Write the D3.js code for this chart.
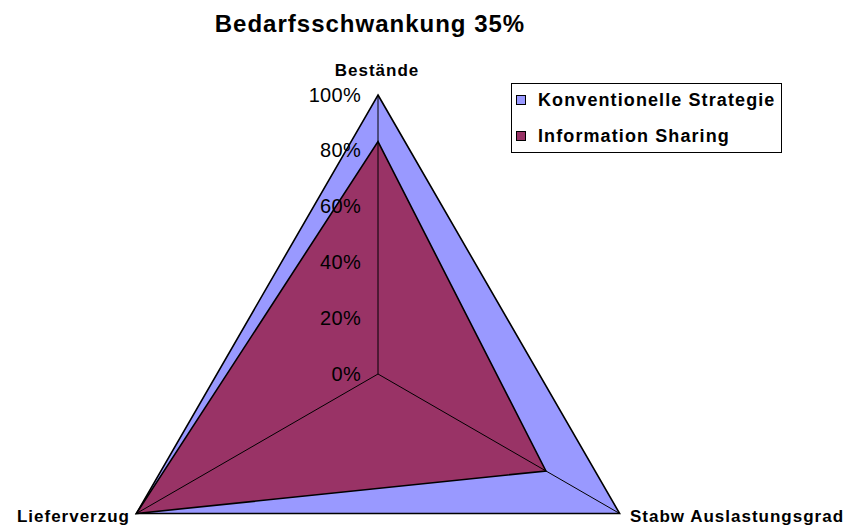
<!DOCTYPE html>
<html lang="de">
  <head>
    <meta charset="UTF-8" />
    <title>Bedarfsschwankung 35%</title>
    <style>
      body {
        margin: 0;
        background: #fff;
        font-family: Arial, "Liberation Sans", sans-serif;
      }
      .title { font-size: 24px; font-weight: bold; letter-spacing: 1px; }
      .axis-label { font-size: 17px; font-weight: bold; letter-spacing: 1px; }
      .tick { font-size: 20px; text-anchor: end; letter-spacing: 0.3px; }
      .legend text { font-size: 18px; font-weight: bold; letter-spacing: 1.1px; }
    </style>
  </head>
  <body>
    <svg width="856" height="529"></svg>
  </body>
  <script src="https://cdn.jsdelivr.net/npm/d3@7"></script>
  <script>
    const axes = ["Bestände", "Stabw Auslastungsgrad", "Lieferverzug"];
    const konventionell = [1.0, 1.0, 1.0];
    const infoSharing = [0.833, 0.695, 1.0];
    const ticks = [0, 0.2, 0.4, 0.6, 0.8, 1.0];
    const seriesNames = ["Konventionelle Strategie", "Information Sharing"];
    const colors = ["#9999ff", "#993366"];

    const svg = d3.select("svg");
    const cx = 378, cy = 374, R = 279;

    const r = d3.scaleLinear().domain([0, 1]).range([0, R]);
    const angle = d3.scaleLinear().domain([0, axes.length]).range([0, 2 * Math.PI]);
    const pt = (i, v) => [cx + r(v) * Math.sin(angle(i)), cy - r(v) * Math.cos(angle(i))];

    svg.append("text")
      .attr("class", "title")
      .attr("x", 370).attr("y", 32)
      .attr("text-anchor", "middle")
      .text("Bedarfsschwankung 35%");

    const line = d3.line().curve(d3.curveLinearClosed);

    [konventionell, infoSharing].forEach((vals, s) => {
      svg.append("path")
        .attr("d", line(vals.map((v, i) => pt(i, v))))
        .attr("fill", colors[s])
        .attr("stroke", "#000")
        .attr("stroke-width", 1.6)
        .attr("stroke-linejoin", "miter");
    });

    // spokes
    svg.append("g").selectAll("line")
      .data(axes)
      .join("line")
      .attr("x1", cx).attr("y1", cy)
      .attr("x2", (_, i) => pt(i, 1)[0])
      .attr("y2", (_, i) => pt(i, 1)[1])
      .attr("stroke", "#000")
      .attr("stroke-width", 1);

    // tick labels
    svg.append("g").selectAll("text")
      .data(ticks)
      .join("text")
      .attr("class", "tick")
      .attr("x", cx - 17)
      .attr("y", (d) => cy - r(d))
      .attr("dy", "0.33em")
      .text(d3.format(".0%"));

    // axis labels
    const labelPos = [
      { x: 377, y: 76, anchor: "middle" },
      { x: 630, y: 522, anchor: "start" },
      { x: 130, y: 522, anchor: "end" },
    ];
    svg.append("g").selectAll("text")
      .data(axes)
      .join("text")
      .attr("class", "axis-label")
      .attr("x", (_, i) => labelPos[i].x)
      .attr("y", (_, i) => labelPos[i].y)
      .attr("text-anchor", (_, i) => labelPos[i].anchor)
      .text((d) => d);

    // legend
    const legend = svg.append("g").attr("class", "legend");
    legend.append("rect")
      .attr("x", 511.5).attr("y", 83.5)
      .attr("width", 270).attr("height", 69)
      .attr("fill", "#fff").attr("stroke", "#000");
    const items = legend.selectAll("g.item")
      .data(seriesNames)
      .join("g")
      .attr("class", "item")
      .attr("transform", (_, i) => `translate(516, ${100 + i * 36})`);
    items.append("rect")
      .attr("x", 0.5).attr("y", -4.5)
      .attr("width", 9).attr("height", 9)
      .attr("fill", (_, i) => colors[i])
      .attr("stroke", "#000");
    items.append("text")
      .attr("x", 22).attr("y", 0)
      .attr("dy", "0.36em")
      .text((d) => d);
  </script>
</html>
